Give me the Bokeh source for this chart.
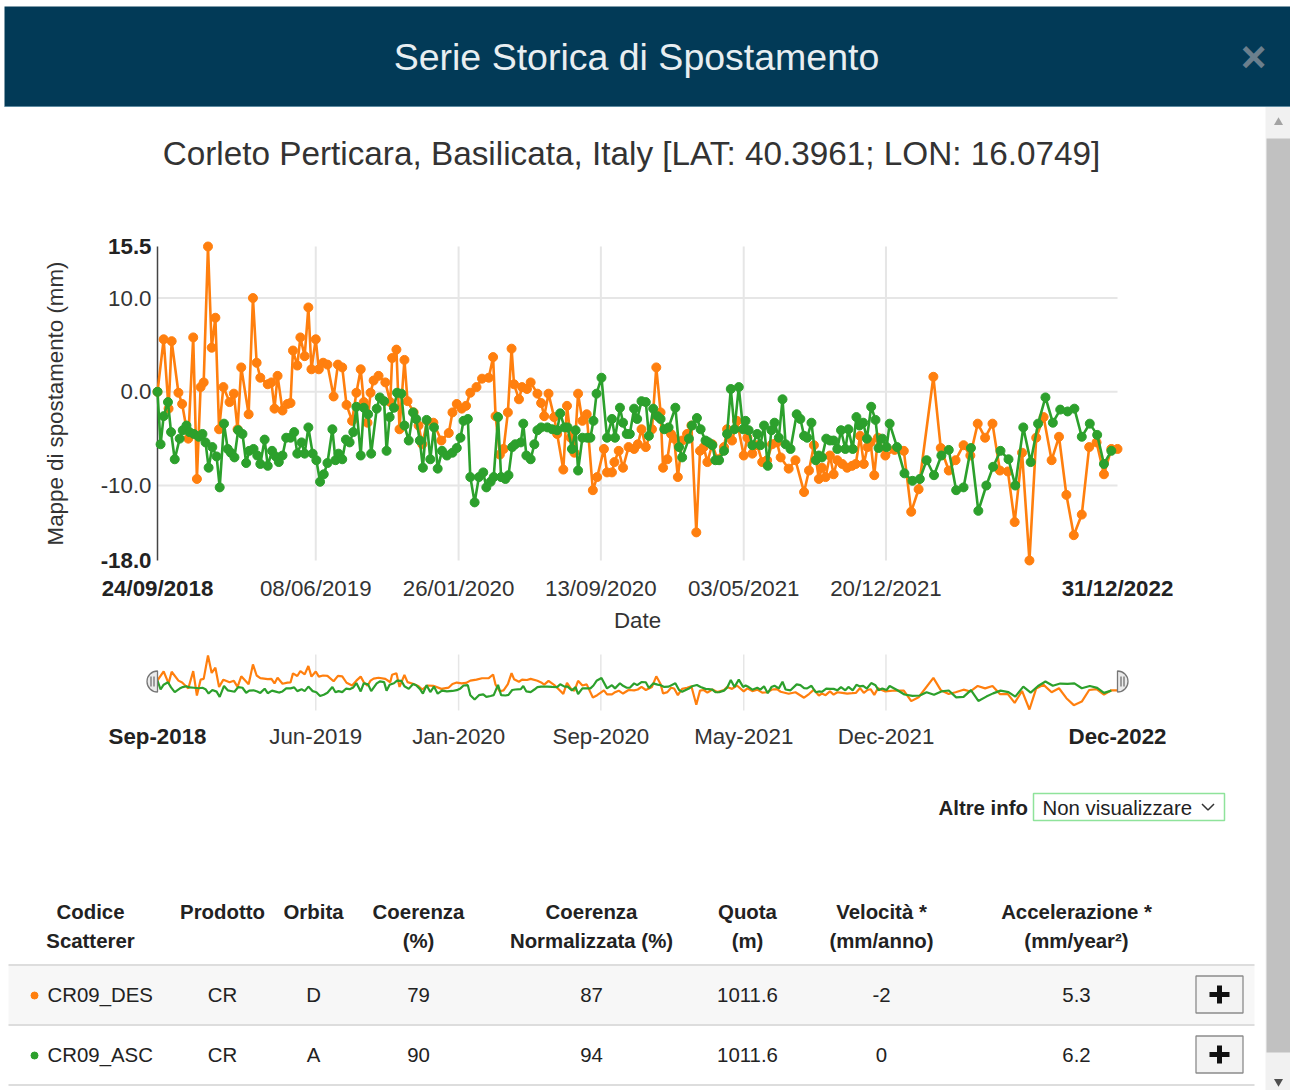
import math
import pandas as pd
from bokeh.plotting import figure
from bokeh.models import Range1d
from bokeh.core.properties import value
from bokeh.embed import file_html
from bokeh.resources import INLINE

FONT = "Liberation Sans"
ORANGE = "#ff7f0e"
GREEN = "#2ca02c"
HEADER = "#023a57"

# ---------------- data ----------------
start = pd.Timestamp("2018-09-24")
end = pd.Timestamp("2022-12-31")

des_days = [0, 10, 18, 23, 34, 40, 50, 58, 64, 70, 75, 82, 88, 94, 100, 107, 117, 124, 130, 136,
            148, 155, 161, 167, 179, 185, 190, 195, 203, 211, 216, 220, 227, 232, 239, 245, 250, 257,
            262, 269, 276, 286, 293, 300, 307, 316, 323, 330, 335, 341, 346, 351, 359, 370, 378, 381,
            388, 393, 401, 406, 416, 424, 430, 438, 448, 461, 473, 479, 486, 494, 501, 508, 518, 527,
            538, 545, 549, 556, 562, 569, 575, 579, 587, 592, 600, 606, 617, 623, 628, 635, 644, 649,
            659, 665, 671, 677, 683, 690, 697, 707, 714, 725, 730, 738, 742, 749, 756, 765, 774, 780,
            786, 793, 803, 810, 817, 821, 828, 834, 839, 845, 852, 860, 867, 875, 881, 887, 893, 901,
            909, 920, 925, 933, 941, 952, 958, 966, 974, 982, 990, 998, 1006, 1012, 1025, 1036, 1050,
            1058, 1066, 1074, 1079, 1085, 1092, 1098, 1104, 1112, 1120, 1128, 1134, 1141, 1147, 1153,
            1158, 1164, 1170, 1182, 1197, 1212, 1224, 1236, 1260, 1272, 1285, 1296, 1309, 1320, 1332,
            1344, 1356, 1368, 1381, 1392, 1404, 1416, 1427, 1439, 1452, 1464, 1476, 1488, 1501, 1513,
            1525, 1537, 1549, 1559]
des_mm = [0.0, 5.6, -1.8, 5.4, -0.1, -1.3, -5.0, 5.8, -9.3, 0.5, 1.0, 15.5, 4.7, 7.9, -4.0, 0.5, -1.1, -0.2, -4.0, 2.6,
          -2.4, 10.0, 3.1, 1.5, 0.8, 1.0, -1.8, 1.7, -2.0, -1.3, -1.2, 4.4, 2.8, 5.8, 3.8, 9.0, 2.4, 5.6,
          2.4, 3.1, 2.9, -0.5, 2.9, 2.6, -1.4, -3.1, -0.1, 2.4, -1.1, -3.3, -0.1, 1.2, 1.7, 1.0, -1.1, 3.6,
          4.5, -4.0, 3.4, -1.0, -2.2, -3.6, -5.6, -3.1, -3.3, -5.2, -4.4, -2.2, -1.3, -1.8, -1.5, -0.1, 0.5, 1.4,
          1.5, 3.7, -2.6, -6.7, -6.1, -2.2, 4.6, 0.8, -0.8, 0.5, 0.3, 1.0, -0.2, -1.2, -2.6, -0.2, -2.7, -4.5,
          -8.3, -1.5, -4.9, -6.5, -0.2, -3.1, -2.4, -10.5, -9.1, -6.1, -8.6, -8.6, -7.5, -6.3, -8.1, -5.9, -6.1, -5.6,
          -4.0, -5.9, -4.0, 2.6, -2.2, -8.1, -7.2, -4.5, -5.0, -9.1, -5.2, -4.5, -3.6, -15.0, -6.3, -5.9, -7.5, -5.6,
          -7.2, -5.9, -4.0, -5.2, -3.1, -6.8, -4.9, -6.6, -5.7, -7.5, -7.3, -5.6, -5.4, -7.0, -8.2, -7.3, -10.7,
          -8.4, -5.7, -9.3, -8.1, -9.1, -6.8, -8.8, -7.3, -7.7, -8.1, -7.9, -7.7, -4.7, -7.7, -5.9,
          -5.4, -8.9, -4.9, -6.8, -6.2, -6.3, -12.8, -10.4, 1.6, -6.0, -8.4, -7.3, -5.7, -6.8, -3.4,
          -4.9, -3.4, -8.4, -8.5, -13.9, -6.5, -18.0, -4.9, -2.7, -7.3, -4.8, -11.0, -15.3, -13.1, -5.9,
          -5.4, -8.8, -6.1, -6.1]

asc_days = [0, 5, 10, 17, 22, 28, 36, 41, 47, 52, 59, 67, 73, 78, 83, 89, 96, 101, 108, 114, 119, 125, 131,
            138, 144, 149, 156, 162, 167, 174, 179, 186, 192, 197, 203, 209, 216, 222, 227, 234, 239, 245,
            252, 258, 264, 270, 276, 284, 289, 294, 300, 306, 312, 318, 323, 330, 335, 342, 347, 356, 361,
            368, 372, 377, 384, 389, 396, 401, 408, 415, 420, 426, 431, 437, 443, 449, 455, 462, 470, 479,
            486, 492, 497, 504, 508, 515, 522, 529, 534, 541, 546, 553, 558, 565, 570, 576, 581, 590, 594,
            599, 606, 612, 617, 623, 633, 641, 649, 654, 661, 666, 673, 679, 683, 690, 698, 703, 708, 713,
            721, 730, 738, 743, 751, 756, 762, 767, 774, 779, 786, 793, 798, 805, 812, 817, 823, 830, 841,
            847, 852, 863, 868, 876, 882, 890, 895, 901, 906, 912, 920, 925, 931, 937, 944, 951, 955, 960,
            966, 974, 979, 985, 991, 997, 1002, 1009, 1015, 1020, 1028, 1038, 1044, 1050, 1055, 1062, 1069,
            1074, 1079, 1086, 1092, 1098, 1104, 1110, 1117, 1122, 1129, 1135, 1140, 1146, 1152, 1159, 1166,
            1171, 1177, 1184, 1189, 1201, 1213, 1226, 1238, 1249, 1261, 1273, 1285, 1297, 1309, 1321, 1333,
            1346, 1357, 1369, 1382, 1393, 1406, 1418, 1430, 1442, 1454, 1466, 1478, 1489, 1501, 1514, 1526,
            1537, 1549]
asc_mm = [0.0, -5.6, -2.6, -1.1, -4.3, -7.2, -5.0, -4.1, -3.6, -4.3, -4.5, -4.8, -4.5, -5.4, -8.1, -5.9, -6.9, -10.2, -3.4, -6.1, -6.5, -7.0, -4.1,
          -4.5, -7.6, -6.3, -6.1, -6.8, -7.7, -5.1, -7.9, -6.3, -6.9, -7.5, -6.8, -4.9, -4.9, -4.3, -6.6, -5.4, -6.6, -3.8,
          -6.6, -7.3, -9.6, -8.8, -7.6, -4.0, -7.3, -6.6, -7.2, -5.1, -5.4, -4.3, -1.6, -6.8, -1.7, -2.4, -6.6, -1.8, -0.6,
          -1.0, -6.3, -2.7, -1.7, -0.1, -0.2, -3.6, -5.2, -2.2, -2.9, -5.2, -8.1, -3.0, -7.2, -3.8, -8.2, -6.3, -6.8, -6.5,
          -6.0, -4.9, -3.1, -2.9, -9.1, -11.8, -9.1, -8.6, -10.2, -9.6, -9.1, -2.7, -9.1, -9.3, -8.9, -5.9, -5.6, -5.4, -3.4,
          -6.8, -7.2, -5.6, -4.1, -3.8, -3.8, -4.0, -4.1, -2.3, -3.8, -3.8, -6.1, -4.1, -8.4, -4.9, -4.9, -4.9, -3.1, -0.2,
          1.5, -4.9, -2.9, -4.9, -1.7, -3.3, -4.5, -4.5, -1.8, -2.9, -1.0, -1.1, -4.7, -1.8, -2.6, -2.9, -4.0, -3.8, -1.7,
          -5.9, -7.0, -5.0, -3.6, -2.8, -4.0, -5.2, -5.4, -5.7, -7.3, -7.3, -6.3, -4.5, 0.3, -4.0, 0.5, -4.0, -3.1, -4.1,
          -5.7, -4.5, -5.7, -3.6, -7.9, -4.1, -3.3, -4.9, -0.8, -5.6, -6.1, -2.4, -2.9, -4.7, -4.9, -3.3, -7.3,
          -6.8, -7.0, -5.0, -5.2, -5.2, -6.1, -4.1, -6.1, -4.0, -6.1, -2.7, -3.6, -3.3, -5.0, -1.6, -3.0,
          -6.0, -5.0, -5.9, -3.4, -5.9, -8.7, -9.5, -9.3, -7.3, -8.9, -6.8, -6.2, -10.5, -10.2, -6.0, -12.7,
          -10.0, -8.0, -6.3, -7.2, -10.0, -3.8, -7.5, -3.4, -0.6, -3.3, -1.9, -2.1, -1.8, -4.8, -3.4, -4.6,
          -7.7, -6.3]

tick_dates = ["2019-06-08", "2020-01-26", "2020-09-13", "2021-05-03", "2021-12-20"]
y_ticks = [-10, 0, 10]
y_min, y_max = -18.0, 15.5

table_head_1 = ["Codice", "Prodotto", "Orbita", "Coerenza", "Coerenza", "Quota", "Velocità *", "Accelerazione *"]
table_head_2 = ["Scatterer", "", "", "(%)", "Normalizzata (%)", "(m)", "(mm/anno)", "(mm/year²)"]
codes = ["CR09_DES", "CR09_ASC"]
prodotto = ["CR", "CR"]
orbita = ["D", "A"]
coerenza = [79, 90]
coer_norm = [87, 94]
quota = [1011.6, 1011.6]
velocita = [-2, 0]
accel = [5.3, 6.2]
row_colors = [ORANGE, GREEN]

# ---------------- page geometry (pixels) ----------------
W, H = 1290, 1090
PL, PR, PT, PB = 157, 1117, 246, 560      # main plot area
NT, NB = 655, 709                         # navigator data band

des_dates = start + pd.to_timedelta(des_days, unit="D")
asc_dates = start + pd.to_timedelta(asc_days, unit="D")
ticks_dt = pd.to_datetime(tick_dates)
n_days = (end - start).days
ppd = (PR - PL) / n_days                  # pixels per day
t_range = Range1d(start - pd.Timedelta(days=PL / ppd), start + pd.Timedelta(days=(W - PL) / ppd))
s_mm = (PB - PT) / (y_max - y_min)
mm_range = Range1d(y_max - (H - PT) / s_mm, y_max + PT / s_mm)
s_nv = (NB - NT) / (y_max - y_min)
nav_range = Range1d(y_max - (H - NT) / s_nv, y_max + NT / s_nv)

p = figure(width=W, height=H, x_range=Range1d(0, W), y_range=Range1d(H, 0),
           x_axis_type=None, y_axis_type=None, toolbar_location=None,
           output_backend="svg", min_border=0, outline_line_color=None)
p.grid.visible = False
p.extra_x_ranges = {"t": t_range}
p.extra_y_ranges = {"mm": mm_range, "nav": nav_range}


def txt(x, y, s, size="20.4px", color="#222222", align="center", bold=False, angle=0.0, **kw):
    if not isinstance(x, (list, tuple, pd.DatetimeIndex)):
        x, y, s = [x], [y], [s]
    p.text(x=x, y=y, text=s, text_font=value(FONT), text_font_size=size, angle=angle,
           text_color=color, text_align=align, text_baseline="middle",
           text_font_style="bold" if bold else "normal", **kw)


# ---------------- header ----------------
p.quad(left=[4], right=[W], top=[6], bottom=[106], fill_color=HEADER, line_color=None)
p.segment(x0=[4], y0=[106], x1=[W], y1=[106], line_color="#5d8aa0", line_width=1)
txt(636, 56, "Serie Storica di Spostamento", size="37.5px", color="#e8eef1")
txt(1253, 56, "×", size="44px", color="#6b7f8d", bold=True)
txt(631, 153, "Corleto Perticara, Basilicata, Italy [LAT: 40.3961; LON: 16.0749]",
    size="33.3px", color="#333333")

# ---------------- main chart ----------------
n = len(ticks_dt)
p.segment(x0=ticks_dt, y0=[y_min] * n, x1=ticks_dt, y1=[y_max] * n, x_range_name="t",
          y_range_name="mm", line_color="#e6e6e6", line_width=2)
p.segment(x0=[start] * len(y_ticks), y0=y_ticks, x1=[end] * len(y_ticks), y1=y_ticks,
          x_range_name="t", y_range_name="mm", line_color="#e6e6e6", line_width=2)
p.segment(x0=[start], y0=[y_min], x1=[start], y1=[y_max], x_range_name="t",
          y_range_name="mm", line_color="#444444", line_width=1.5)

p.line(des_dates, des_mm, x_range_name="t", y_range_name="mm", line_color=ORANGE, line_width=2.6)
p.scatter(des_dates, des_mm, x_range_name="t", y_range_name="mm", size=9,
          fill_color=ORANGE, line_color=ORANGE)
p.line(asc_dates, asc_mm, x_range_name="t", y_range_name="mm", line_color=GREEN, line_width=2.6)
p.scatter(asc_dates, asc_mm, x_range_name="t", y_range_name="mm", size=9,
          fill_color=GREEN, line_color=GREEN)

# y tick labels
txt([PL - 6] * len(y_ticks), y_ticks, [f"{v:.1f}" for v in y_ticks], size="22.3px",
    color="#333333", align="right", y_range_name="mm")
txt([PL - 6] * 2, [y_max, y_min], [f"{y_max:.1f}", f"{y_min:.1f}"], size="22.3px",
    color="#222222", align="right", bold=True, y_range_name="mm")
# x tick labels
fmt = "%d/%m/%Y"
txt(ticks_dt, [PB + 28] * n, [d.strftime(fmt) for d in ticks_dt], size="22.3px",
    color="#333333", x_range_name="t")
txt(pd.DatetimeIndex([start, end]), [PB + 28] * 2, [start.strftime(fmt), end.strftime(fmt)],
    size="22.3px", color="#222222", bold=True, x_range_name="t")
# axis titles
txt((PL + PR) / 2, PB + 60, "Date", size="22.3px", color="#333333")
txt(55, (PT + PB) / 2, "Mappe di spostamento (mm)", size="22.3px", color="#333333",
    angle=math.pi / 2)

# ---------------- navigator ----------------
p.segment(x0=ticks_dt, y0=[NT - 1] * n, x1=ticks_dt, y1=[NB + 1] * n, x_range_name="t",
          line_color="#e6e6e6", line_width=1.5)
p.line(des_dates, des_mm, x_range_name="t", y_range_name="nav", line_color=ORANGE, line_width=2.2)
p.line(asc_dates, asc_mm, x_range_name="t", y_range_name="nav", line_color=GREEN, line_width=2.2)
mid = (NT + NB) / 2 - 1
p.wedge(x=[start], y=[mid], radius=10.5, radius_units="screen", start_angle=math.pi / 2,
        end_angle=3 * math.pi / 2, x_range_name="t", fill_color="#ebebeb",
        line_color="#777777", line_width=1.3)
p.wedge(x=[end], y=[mid], radius=10.5, radius_units="screen", start_angle=-math.pi / 2,
        end_angle=math.pi / 2, x_range_name="t", fill_color="#ebebeb",
        line_color="#777777", line_width=1.3)
for off in (3.5, 6.5):
    d = pd.Timedelta(days=off / ppd)
    p.segment(x0=[start - d, end + d], y0=[mid - 5] * 2, x1=[start - d, end + d], y1=[mid + 5] * 2,
              x_range_name="t", line_color="#666666", line_width=1.2)
nfmt = "%b-%Y"
txt(ticks_dt, [736] * n, [d.strftime(nfmt) for d in ticks_dt], size="22.3px",
    color="#333333", x_range_name="t")
txt(pd.DatetimeIndex([start, end]), [736] * 2, [start.strftime(nfmt), end.strftime(nfmt)],
    size="22.3px", color="#222222", bold=True, x_range_name="t")

# ---------------- dropdown ----------------
p.quad(left=[1033], right=[1224], top=[793], bottom=[820], fill_color="white",
       line_color="#8fe39b", line_width=1.5)
txt(938, 807, "Altre info", bold=True, align="left")
txt(1042, 807, "Non visualizzare", align="left")
p.line([1201.5, 1207.5, 1213.5], [803.5, 809.5, 803.5], line_color="#333333", line_width=1.5)

# ---------------- table ----------------
col_x = [90, 222, 313, 418, 591, 747, 881, 1076]
for cx, h1, h2 in zip(col_x, table_head_1, table_head_2):
    txt(cx, 911, h1, bold=True)
    if h2:
        txt(cx, 940, h2, bold=True)

row_y = [994, 1054]
p.quad(left=[8], right=[1254], top=[965], bottom=[1024], fill_color="#f7f7f7", line_color=None)
for yy in (964.5, 1024.5, 1084.5):
    p.segment(x0=[8], y0=[yy], x1=[1254], y1=[yy], line_color="#dddddd", line_width=2)

for i, yy in enumerate(row_y):
    p.scatter([34], [yy + 1], size=7, fill_color=row_colors[i], line_color=row_colors[i])
    txt(47, yy, codes[i], align="left")
    vals = [prodotto[i], orbita[i], str(coerenza[i]), str(coer_norm[i]), f"{quota[i]:.1f}",
            str(velocita[i]), f"{accel[i]:.1f}"]
    for cx, v in zip(col_x[1:], vals):
        txt(cx, yy, v)
    p.quad(left=[1195.5], right=[1242.5], top=[yy - 18.5], bottom=[yy + 18.5], fill_color="#f3f3f3",
           line_color="#8c8c8c", line_width=1.3)
    p.quad(left=[1209], right=[1229], top=[yy - 2.5], bottom=[yy + 2.5], fill_color="#111111",
           line_color=None)
    p.quad(left=[1216.5], right=[1221.5], top=[yy - 9], bottom=[yy + 9], fill_color="#111111",
           line_color=None)

# ---------------- scrollbar ----------------
p.quad(left=[1265], right=[W], top=[106.5], bottom=[H], fill_color="#f1f1f1", line_color=None)
p.quad(left=[1266], right=[W], top=[138], bottom=[1052], fill_color="#c1c1c1", line_color=None)
p.scatter([1278], [122], marker="triangle", size=9, fill_color="#a3a3a3", line_color=None)
p.scatter([1278], [1081], marker="inverted_triangle", size=9, fill_color="#505050", line_color=None)

open("out.html", "w").write(file_html(p, INLINE))
